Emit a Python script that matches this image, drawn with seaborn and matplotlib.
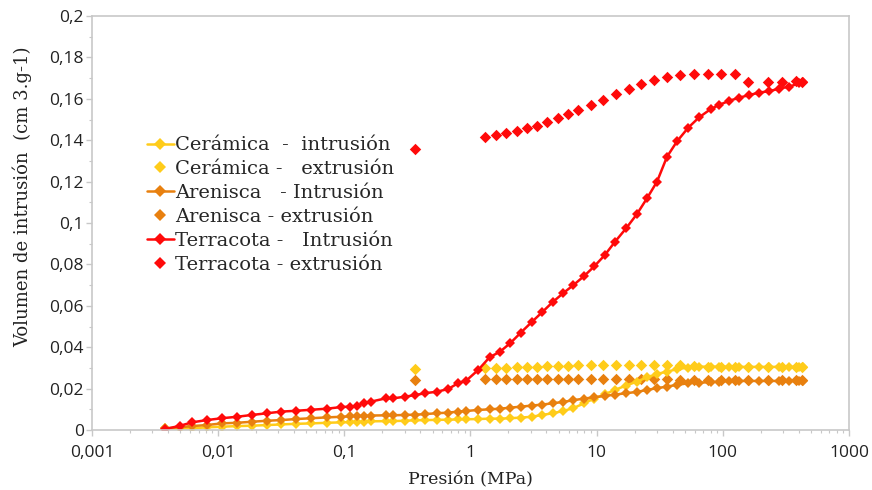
import matplotlib
matplotlib.use('Agg')
import matplotlib.pyplot as plt
import matplotlib.ticker as mticker
from matplotlib.lines import Line2D
import seaborn as sns
import pandas as pd
import numpy as np

# Presiones (MPa) comunes a las curvas de intrusion y de extrusion
p_intrusion = [0.00381, 0.00495, 0.0062, 0.0081, 0.0107, 0.0141, 0.0186, 0.0245, 0.0316, 0.0416,
               0.0549, 0.0724, 0.0949, 0.111, 0.125, 0.144, 0.162, 0.213, 0.244, 0.302,
               0.365, 0.438, 0.541, 0.664, 0.797, 0.927, 1.15, 1.42, 1.71, 2.07,
               2.51, 3.05, 3.71, 4.48, 5.45, 6.54, 7.96, 9.55, 11.6, 14.0,
               17.1, 20.9, 25.1, 30.1, 36.1, 43.4, 53.1, 64.7, 80, 93,
               112, 134, 161, 194, 233, 280, 336, 404, 434]
p_extrusion = [0.36, 1.30, 1.59, 1.90, 2.32, 2.78, 3.34, 4.06, 4.91, 5.97,
               7.17, 9.04, 11.3, 14.3, 17.9, 22.6, 28.4, 36.2, 46.1, 59,
               76, 97, 124, 158, 229, 297, 379, 427]

ceramica_intr = [0.0008, 0.0008, 0.0008, 0.0013, 0.0016, 0.0019, 0.0021, 0.0024, 0.0027, 0.0030,
                 0.0032, 0.0035, 0.0037, 0.0038, 0.0040, 0.0040, 0.0042, 0.0043, 0.0043, 0.0045,
                 0.0047, 0.0048, 0.0049, 0.0050, 0.0051, 0.0052, 0.0053, 0.0055, 0.0055, 0.0057,
                 0.0060, 0.0064, 0.0073, 0.0081, 0.0092, 0.0106, 0.0129, 0.0152, 0.0173, 0.0194,
                 0.0215, 0.0234, 0.0255, 0.0271, 0.0282, 0.0294, 0.0302, 0.0306, 0.0306, 0.0306,
                 0.0306, 0.0305, 0.0305, 0.0305, 0.0305, 0.0305, 0.0305, 0.0305, 0.0305]
arenisca_intr = [0.0008, 0.0013, 0.0019, 0.0024, 0.0032, 0.0035, 0.0040, 0.0045, 0.0048, 0.0053,
                 0.0057, 0.0061, 0.0064, 0.0066, 0.0068, 0.0068, 0.0070, 0.0071, 0.0071, 0.0073,
                 0.0074, 0.0077, 0.0081, 0.0084, 0.0089, 0.0092, 0.0097, 0.0100, 0.0103, 0.0108,
                 0.0113, 0.0118, 0.0123, 0.0129, 0.0136, 0.0144, 0.0152, 0.0158, 0.0165, 0.0171,
                 0.0178, 0.0184, 0.0194, 0.0202, 0.0210, 0.0218, 0.0226, 0.0229, 0.0231, 0.0234,
                 0.0237, 0.0237, 0.0237, 0.0237, 0.0237, 0.0237, 0.0237, 0.0237, 0.0237]
terracota_intr = [0.0005, 0.0020, 0.0037, 0.0048, 0.0057, 0.0064, 0.0073, 0.0081, 0.0089, 0.0093,
                  0.0098, 0.0103, 0.0111, 0.0113, 0.0116, 0.0131, 0.0137, 0.0153, 0.0153, 0.0161,
                  0.0169, 0.0178, 0.0185, 0.0198, 0.0226, 0.0239, 0.0290, 0.0352, 0.0378, 0.0420,
                  0.0471, 0.0521, 0.0570, 0.0618, 0.0662, 0.0700, 0.0744, 0.0790, 0.0845, 0.0910,
                  0.0974, 0.1044, 0.1120, 0.1200, 0.1320, 0.1395, 0.1460, 0.1510, 0.1550, 0.1570,
                  0.1590, 0.1605, 0.1618, 0.1630, 0.1637, 0.1649, 0.1659, 0.1675, 0.1680]

ceramica_extr = [0.0294, 0.0302, 0.0302, 0.0302, 0.0306, 0.0306, 0.0306, 0.0310, 0.0310, 0.0310,
                 0.0312, 0.0312, 0.0312, 0.0314, 0.0314, 0.0312, 0.0312, 0.0312, 0.0314, 0.0310,
                 0.0306, 0.0306, 0.0306, 0.0306, 0.0306, 0.0306, 0.0306, 0.0306]
arenisca_extr = [0.0242, 0.0245, 0.0245, 0.0245, 0.0245, 0.0245, 0.0245, 0.0245, 0.0245, 0.0245,
                 0.0245, 0.0245, 0.0245, 0.0245, 0.0245, 0.0245, 0.0245, 0.0245, 0.0242, 0.0242,
                 0.0242, 0.0242, 0.0241, 0.0241, 0.0241, 0.0241, 0.0241, 0.0241]
terracota_extr = [0.1360, 0.1415, 0.1423, 0.1433, 0.1444, 0.1460, 0.1471, 0.1487, 0.1505, 0.1525,
                  0.1545, 0.1570, 0.1594, 0.1621, 0.1649, 0.1670, 0.1689, 0.1707, 0.1715, 0.1722,
                  0.1722, 0.1722, 0.1722, 0.1680, 0.1683, 0.1683, 0.1686, 0.1680]

labels = ['Cerámica  -  intrusión', 'Cerámica -   extrusión',
          'Arenisca   - Intrusión', 'Arenisca - extrusión',
          'Terracota -   Intrusión', 'Terracota - extrusión']
colors = {'Cerámica': '#FFCC1A', 'Arenisca': '#E8800F', 'Terracota': '#FF0A0A'}

sns.set_theme(style='white')
plt.rcParams['font.family'] = ['DejaVu Serif']

fig = plt.figure(figsize=(8.72, 4.90), dpi=100)
ax = fig.add_axes([0.1055, 0.1224, 0.8681, 0.8449])

series = [('Cerámica', ceramica_intr, ceramica_extr),
          ('Arenisca', arenisca_intr, arenisca_extr),
          ('Terracota', terracota_intr, terracota_extr)]

for name, intr, extr in series:
    c = colors[name]
    df_i = pd.DataFrame({'p': p_intrusion, 'v': intr})
    sns.lineplot(data=df_i, x='p', y='v', ax=ax, color=c, lw=1.8, marker='D',
                 markersize=5.5, markeredgewidth=0, sort=False, estimator=None)
    df_e = pd.DataFrame({'p': p_extrusion, 'v': extr})
    sns.scatterplot(data=df_e, x='p', y='v', ax=ax, color=c, marker='D', s=34,
                    linewidth=0)

ax.set_xscale('log')
ax.set_xlim(0.001, 1000)
ax.set_ylim(0, 0.2)
ax.set_yticks(np.arange(0, 0.2001, 0.02))
ax.yaxis.set_minor_locator(mticker.MultipleLocator(0.01))


def fmt_comma(v, pos):
    s = ('%.3f' % v).rstrip('0').rstrip('.')
    return s.replace('.', ',')


ax.xaxis.set_major_formatter(mticker.FuncFormatter(fmt_comma))
ax.yaxis.set_major_formatter(mticker.FuncFormatter(fmt_comma))
ax.xaxis.set_minor_formatter(mticker.NullFormatter())

for sp in ax.spines.values():
    sp.set_color('#C8C8C8')
    sp.set_linewidth(1.2)
ax.tick_params(axis='both', which='major', direction='out', length=4, width=1,
               color='#C8C8C8', labelsize=12.5, labelcolor='#222222', pad=2, bottom=True, left=True)
ax.tick_params(axis='x', which='major', pad=7)
ax.tick_params(axis='both', which='minor', direction='out', length=2.5, width=0.8,
               color='#C8C8C8', bottom=True, left=True)
for lab in ax.get_xticklabels() + ax.get_yticklabels():
    lab.set_family(['Open Sans', 'DejaVu Sans'])

ax.set_xlabel('Presión (MPa)', fontsize=12.5, color='#222222', labelpad=7)
ax.set_ylabel('Volumen de intrusión  (cm 3.g-1)', fontsize=13, color='#222222')
ax.yaxis.set_label_coords(-0.079, 0.563)

handles = []
for name in ['Cerámica', 'Arenisca', 'Terracota']:
    c = colors[name]
    handles.append(Line2D([], [], color=c, lw=1.8, marker='D', markersize=6, markeredgewidth=0))
    handles.append(Line2D([], [], color=c, lw=0, marker='D', markersize=6, markeredgewidth=0))
ax.legend(handles, labels, loc='upper left', bbox_to_anchor=(0.062, 0.728), frameon=False,
          fontsize=14, handlelength=1.4, handletextpad=0.05, labelspacing=0.3,
          borderaxespad=0)

fig.savefig('out.png', dpi=100, facecolor='white')
